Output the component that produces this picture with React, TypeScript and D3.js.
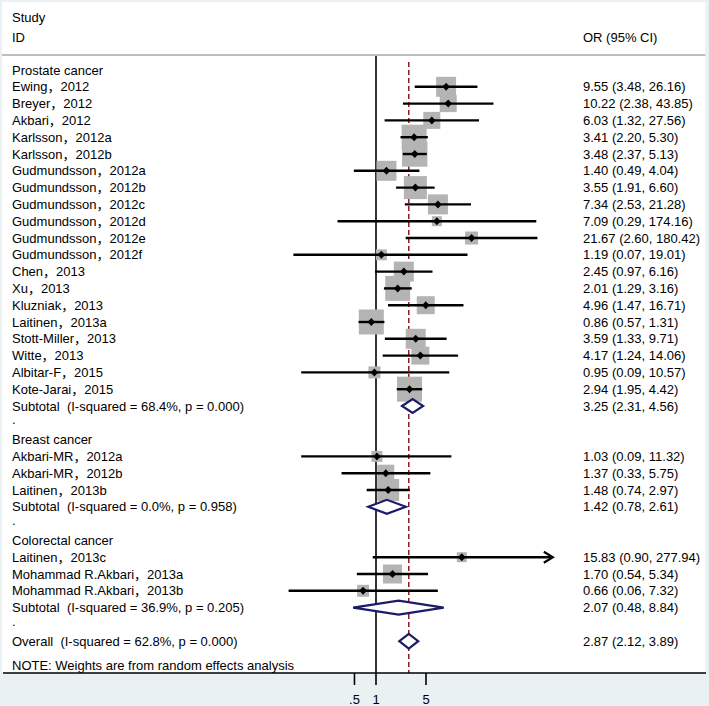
import React from "react";
import * as d3 from "d3";

const groupNames = ["Prostate cancer", "Breast cancer", "Colorectal cancer"];
const groupSizes = [19, 3, 3];

const studyLabels = [
  "Ewing，2012", "Breyer，2012", "Akbari，2012", "Karlsson，2012a", "Karlsson，2012b",
  "Gudmundsson，2012a", "Gudmundsson，2012b", "Gudmundsson，2012c", "Gudmundsson，2012d",
  "Gudmundsson，2012e", "Gudmundsson，2012f", "Chen，2013", "Xu，2013", "Kluzniak，2013",
  "Laitinen，2013a", "Stott-Miller，2013", "Witte，2013", "Albitar-F，2015", "Kote-Jarai，2015",
  "Akbari-MR，2012a", "Akbari-MR，2012b", "Laitinen，2013b",
  "Laitinen，2013c", "Mohammad R.Akbari，2013a", "Mohammad R.Akbari，2013b",
];
const orValues = [9.55, 10.22, 6.03, 3.41, 3.48, 1.40, 3.55, 7.34, 7.09, 21.67, 1.19, 2.45, 2.01, 4.96, 0.86, 3.59, 4.17, 0.95, 2.94, 1.03, 1.37, 1.48, 15.83, 1.70, 0.66];
const ciLower = [3.48, 2.38, 1.32, 2.20, 2.37, 0.49, 1.91, 2.53, 0.29, 2.60, 0.07, 0.97, 1.29, 1.47, 0.57, 1.33, 1.24, 0.09, 1.95, 0.09, 0.33, 0.74, 0.90, 0.54, 0.06];
const ciUpper = [26.16, 43.85, 27.56, 5.30, 5.13, 4.04, 6.60, 21.28, 174.16, 180.42, 19.01, 6.16, 3.16, 16.71, 1.31, 9.71, 14.06, 10.57, 4.42, 11.32, 5.75, 2.97, 277.94, 5.34, 7.32];
const weights = [3.84, 2.78, 2.78, 6.0, 6.2, 3.84, 5.08, 3.84, 0.96, 1.62, 1.16, 3.84, 6.0, 3.11, 6.0, 3.84, 3.11, 1.38, 6.0, 1.16, 2.78, 4.65, 0.96, 3.47, 1.38];

const subtotalOR = [3.25, 1.42, 2.07];
const subtotalLower = [2.31, 0.78, 0.48];
const subtotalUpper = [4.56, 2.61, 8.84];
const subtotalI2 = ["68.4", "0.0", "36.9"];
const subtotalP = ["0.000", "0.958", "0.205"];

const overallOR = 2.87;
const overallLower = 2.12;
const overallUpper = 3.89;
const overallI2 = "62.8";
const overallP = "0.000";

const tickValues = [0.5, 1, 5];
const tickLabels = [".5", "1", "5"];
const axisMaxValue = 200;

const W = 709;
const H = 706;
const FONT = "'Liberation Sans', Arial, 'Noto Sans CJK SC', sans-serif";
const FS = 13;

export default function App() {
  const x = d3.scaleLog().domain([1, 5]).range([376, 426]);
  const y0 = 70;
  const step = 16.8;
  const rowY = (i: number) => y0 + i * step;
  const axisY = 673;
  const labelX = 12;
  const valueX = 583;
  const fmt = (v: number) => v.toFixed(2);
  const boxSize = (w: number) => 10.2 * Math.sqrt(w);

  type Row =
    | { kind: "header"; text: string; r: number }
    | { kind: "study"; idx: number; r: number }
    | { kind: "subtotal"; g: number; r: number }
    | { kind: "dot"; r: number };
  const rows: Row[] = [];
  let r = 0;
  let s = 0;
  groupNames.forEach((name, g) => {
    rows.push({ kind: "header", text: name, r: r++ });
    for (let k = 0; k < groupSizes[g]; k++) rows.push({ kind: "study", idx: s++, r: r++ });
    rows.push({ kind: "subtotal", g, r: r++ });
    rows.push({ kind: "dot", r: r++ });
  });
  const overallRow = r;

  const diamond = (est: number, lo: number, hi: number, cy: number, hh: number) =>
    `M${x(lo)},${cy} L${x(est)},${cy - hh} L${x(hi)},${cy} L${x(est)},${cy + hh} Z`;

  const textStyle: React.CSSProperties = { fontFamily: FONT, fontSize: FS, whiteSpace: "pre" };

  const studyRows = rows.filter((d) => d.kind === "study") as { kind: "study"; idx: number; r: number }[];

  return (
    <div style={{ position: "absolute", left: 0, top: 0 }}>
      <svg width={W} height={H} style={{ display: "block" }}>
        <rect x={0} y={0} width={W} height={H} fill="#eaf1f3" />
        <rect x={2} y={2} width={703.5} height={axisY - 2} fill="#ffffff" />
        {/* header */}
        <text x={labelX} y={17} dominantBaseline="central" style={textStyle}>Study</text>
        <text x={labelX} y={37} dominantBaseline="central" style={textStyle}>ID</text>
        <text x={valueX} y={37} dominantBaseline="central" style={textStyle}>OR (95% CI)</text>
        <line x1={2} x2={705.5} y1={55} y2={55} stroke="#a8a8a8" strokeWidth={1.6} />

        {/* null line */}
        <line x1={x(1)} x2={x(1)} y1={56} y2={axisY} stroke="#000" strokeWidth={1.6} />
        {/* overall dashed line */}
        <line x1={x(overallOR)} x2={x(overallOR)} y1={62} y2={axisY} stroke="#8b1c24" strokeWidth={1.5} strokeDasharray="5,3" />

        {/* boxes */}
        {studyRows.map((d) => {
          const sz = boxSize(weights[d.idx]);
          return (
            <rect key={"b" + d.idx} x={x(orValues[d.idx]) - sz / 2} y={rowY(d.r) - sz / 2} width={sz} height={sz} fill="#b4b4b4" />
          );
        })}
        {/* CI lines */}
        {studyRows.map((d) => {
          const hi = ciUpper[d.idx];
          const clipped = hi > axisMaxValue;
          const x2 = clipped ? x(hi) + 2 : x(hi);
          const cy = rowY(d.r);
          const cx = x(orValues[d.idx]);
          return (
            <g key={"c" + d.idx}>
              <line x1={x(ciLower[d.idx])} x2={clipped ? x2 - 1.5 : x2} y1={cy} y2={cy} stroke="#000" strokeWidth={2.4} />
              {clipped && (
                <path d={`M${x2 - 9},${cy - 5.5} L${x2},${cy} L${x2 - 9},${cy + 5.5}`} fill="none" stroke="#000" strokeWidth={2.2} />
              )}
              <path d={`M${cx - 3.8},${cy} L${cx},${cy - 4} L${cx + 3.8},${cy} L${cx},${cy + 4} Z`} fill="#000" />
            </g>
          );
        })}
        {/* subtotal diamonds */}
        {rows.filter((d) => d.kind === "subtotal").map((d: any) => (
          <path key={"sd" + d.g} d={diamond(subtotalOR[d.g], subtotalLower[d.g], subtotalUpper[d.g], rowY(d.r), 7)} fill="#fff" stroke="#1b1b6b" strokeWidth={2.2} />
        ))}
        <path d={diamond(overallOR, overallLower, overallUpper, rowY(overallRow), 7.3)} fill="#fff" stroke="#1b1b6b" strokeWidth={2.2} />

        {/* left labels and right values */}
        {rows.map((d, i) => {
          const cy = rowY(d.r);
          if (d.kind === "header")
            return <text key={"t" + i} x={labelX} y={cy} dominantBaseline="central" style={textStyle}>{d.text}</text>;
          if (d.kind === "dot")
            return <text key={"t" + i} x={labelX} y={cy - 3} dominantBaseline="central" style={textStyle}>.</text>;
          if (d.kind === "study")
            return (
              <g key={"t" + i}>
                <text x={labelX} y={cy} dominantBaseline="central" style={textStyle}>{studyLabels[d.idx]}</text>
                <text x={valueX} y={cy} dominantBaseline="central" style={textStyle}>
                  {`${fmt(orValues[d.idx])} (${fmt(ciLower[d.idx])}, ${fmt(ciUpper[d.idx])})`}
                </text>
              </g>
            );
          return (
            <g key={"t" + i}>
              <text x={labelX} y={cy} dominantBaseline="central" style={textStyle}>
                {`Subtotal  (I-squared = ${subtotalI2[d.g]}%, p = ${subtotalP[d.g]})`}
              </text>
              <text x={valueX} y={cy} dominantBaseline="central" style={textStyle}>
                {`${fmt(subtotalOR[d.g])} (${fmt(subtotalLower[d.g])}, ${fmt(subtotalUpper[d.g])})`}
              </text>
            </g>
          );
        })}
        <text x={labelX} y={rowY(overallRow)} dominantBaseline="central" style={textStyle}>
          {`Overall  (I-squared = ${overallI2}%, p = ${overallP})`}
        </text>
        <text x={valueX} y={rowY(overallRow)} dominantBaseline="central" style={textStyle}>
          {`${fmt(overallOR)} (${fmt(overallLower)}, ${fmt(overallUpper)})`}
        </text>
        <text x={labelX} y={665} dominantBaseline="central" style={textStyle}>NOTE: Weights are from random effects analysis</text>

        {/* axis */}
        <line x1={3} x2={706} y1={axisY} y2={axisY} stroke="#000" strokeWidth={1.6} />
        {tickValues.map((t, i) => (
          <g key={"tk" + i}>
            <line x1={x(t)} x2={x(t)} y1={axisY} y2={axisY + 12} stroke="#000" strokeWidth={1.6} />
            <text x={x(t)} y={699} textAnchor="middle" dominantBaseline="central" style={textStyle}>{tickLabels[i]}</text>
          </g>
        ))}
      </svg>
    </div>
  );
}
